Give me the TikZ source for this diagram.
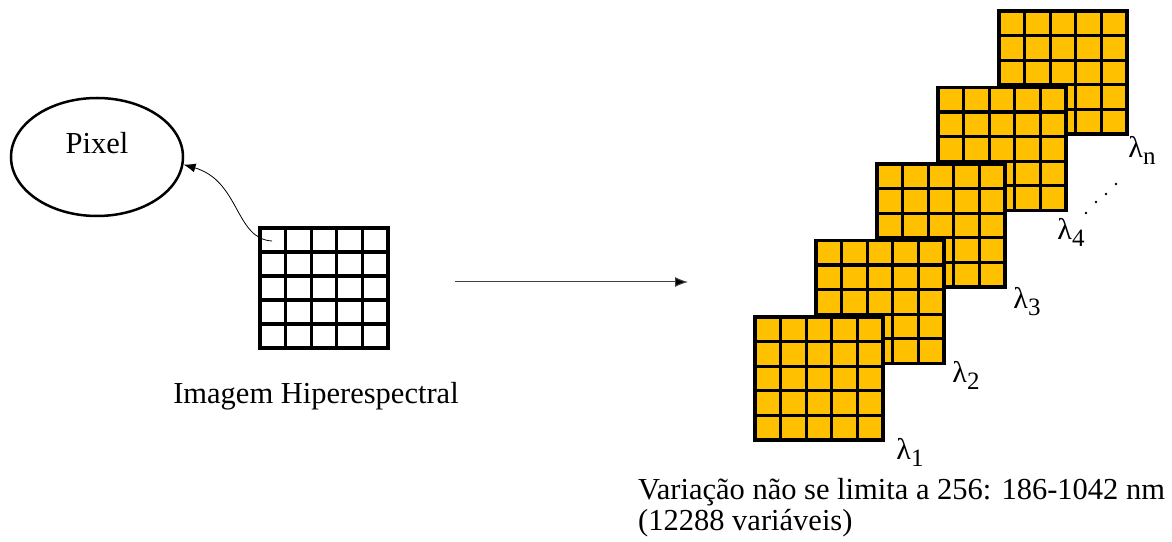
\documentclass[tikz,border=0pt]{standalone}
\usepackage{fontspec}
\setmainfont{Liberation Serif}
\usetikzlibrary{shapes.geometric,arrows.meta}
\definecolor{bandyellow}{HTML}{FFC000}
\tikzset{
  gridlines/.style={line width=3.2pt},
  lam/.style={font=\fontsize{30}{30}\selectfont, inner sep=0pt},
}
\newcommand{\lamsub}[1]{λ\raisebox{-7pt}{\fontsize{25}{25}\selectfont #1}}

\begin{document}
\begin{tikzpicture}[x=1pt, y=1pt, font=\fontsize{30.5}{31}\selectfont]
    \useasboundingbox (0,0) rectangle (1172,541);
    % the pixel and the image it comes from
    \node[draw, ellipse, line width=2.5pt, minimum width=172, minimum height=118] (pixel) at (97,384) {};
    \node (pixtext) at ([yshift=14]pixel.center) {Pixel};
    \begin{scope}[shift={(260,193)}]
      \draw[gridlines, xstep=25.6, ystep=24] (0,0) rectangle (128,120) (0,0) grid (128,120);
      \coordinate (pxl) at (12,107);
    \end{scope}
    \draw[line width=0.8pt, -{Latex[length=12pt,width=9pt]}] (pxl) .. controls (235,302) and (240,360) .. (pixel.-5);
    \node (hsi) at (316,145) {Imagem Hiperespectral};

    \coordinate (from) at (455,259);
    \coordinate (to) at (688,259);
    \draw[black!75, line width=1pt, -{Latex[length=13pt,width=10pt,fill=black]}] (from) -- (to);

    % spectral bands, back to front
    \foreach \i in {4,3,2,1,0}{
      \begin{scope}[shift={(755+61*\i,101+76.5*\i)}]
        \fill[bandyellow] (0,0) rectangle (128,123);
        \draw[gridlines, xstep=25.6, ystep=24.6] (0,0) rectangle (128,123) (0,0) grid (128,123);
      \end{scope}
    }
    \node[lam] (lam1) at (910,89) {\lamsub{1}};
    \node[lam] (lam2) at (966,166) {\lamsub{2}};
    \node[lam] (lam3) at (1027,239) {\lamsub{3}};
    \node[lam] (lam4) at (1071,309) {\lamsub{4}};
    \node[lam] (lamn) at (1142,391) {\lamsub{n}};
    \foreach \p in {(1086,328),(1096,339),(1106,347),(1116,357)}
      \fill \p circle (1.4);

    \node[anchor=base west, align=left, inner sep=0pt] (range) at (638,11)
      {Variação não se limita a 256: 186-1042 nm\\(12288 variáveis)};
\end{tikzpicture}
\end{document}
